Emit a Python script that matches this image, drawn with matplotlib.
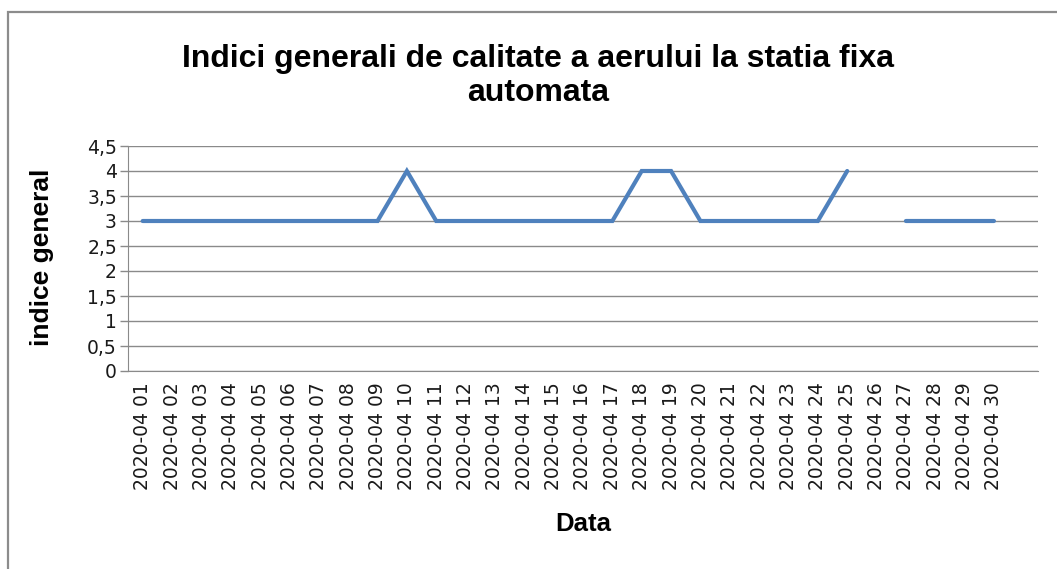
import numpy as np
import matplotlib
matplotlib.use("Agg")
import matplotlib.pyplot as plt
from matplotlib.patches import Rectangle
from matplotlib.ticker import FuncFormatter

plt.rcParams['font.family'] = ['Liberation Sans', 'DejaVu Sans']

dates = ["2020-04 %02d" % d for d in range(1, 31)]
values = [3, 3, 3, 3, 3, 3, 3, 3, 3, 4,
          3, 3, 3, 3, 3, 3, 3, 4, 4, 3,
          3, 3, 3, 3, 4, np.nan, 3, 3, 3, 3]
title = "Indici generali de calitate a aerului la statia fixa\nautomata"
ylabel = "indice general"
xlabel = "Data"
yticks = [0, 0.5, 1, 1.5, 2, 2.5, 3, 3.5, 4, 4.5]

W, H = 1057, 569
fig = plt.figure(figsize=(W / 100, H / 100), dpi=100)
fig.patch.set_facecolor("white")

# outer frame
fig.patches.append(Rectangle((8 / W, -0.1), 1.2, 1.1 - 12.5 / H,
                             transform=fig.transFigure, fill=False,
                             edgecolor="#8c8c8c", linewidth=1.6))

ax = fig.add_axes([128 / W, 1 - 371 / H, (1038 - 128) / W, (371 - 146) / H])
x = np.arange(len(dates))
ax.plot(x, values, color="#4F81BD", linewidth=3.0, solid_capstyle="round",
        solid_joinstyle="miter")

ax.set_xlim(-0.5, len(dates) + 0.5)
ax.set_ylim(0, 4.5)
ax.set_yticks(yticks)
ax.yaxis.set_major_formatter(FuncFormatter(lambda v, p: ("%g" % v).replace(".", ",")))
ax.grid(axis="y", color="#8a8a8a", linewidth=1.0)
ax.set_axisbelow(True)

ax.set_xticks(x)
ax.set_xticklabels(dates, rotation=90)
for lab in ax.get_xticklabels() + ax.get_yticklabels():
    lab.set_family("DejaVu Sans")
    lab.set_fontsize(13.5)
    lab.set_color("#1a1a1a")
ax.tick_params(axis="x", length=0, pad=8)
ax.tick_params(axis="y", length=6, width=1, color="#8a8a8a", pad=2)

for s in ["top", "right"]:
    ax.spines[s].set_visible(False)
ax.spines["left"].set_color("#8a8a8a")
ax.spines["bottom"].set_color("#8a8a8a")

fig.text(538 / W, 1 - 76 / H, title, ha="center", va="center",
         fontsize=23, fontweight="bold", linespacing=1.15)
fig.text(42 / W, 1 - 257 / H, ylabel, ha="center", va="center", rotation=90,
         fontsize=19, fontweight="bold")
fig.text(583 / W, 1 - 524 / H, xlabel, ha="center", va="center",
         fontsize=18.5, fontweight="bold")

fig.savefig("out.png", dpi=100)
